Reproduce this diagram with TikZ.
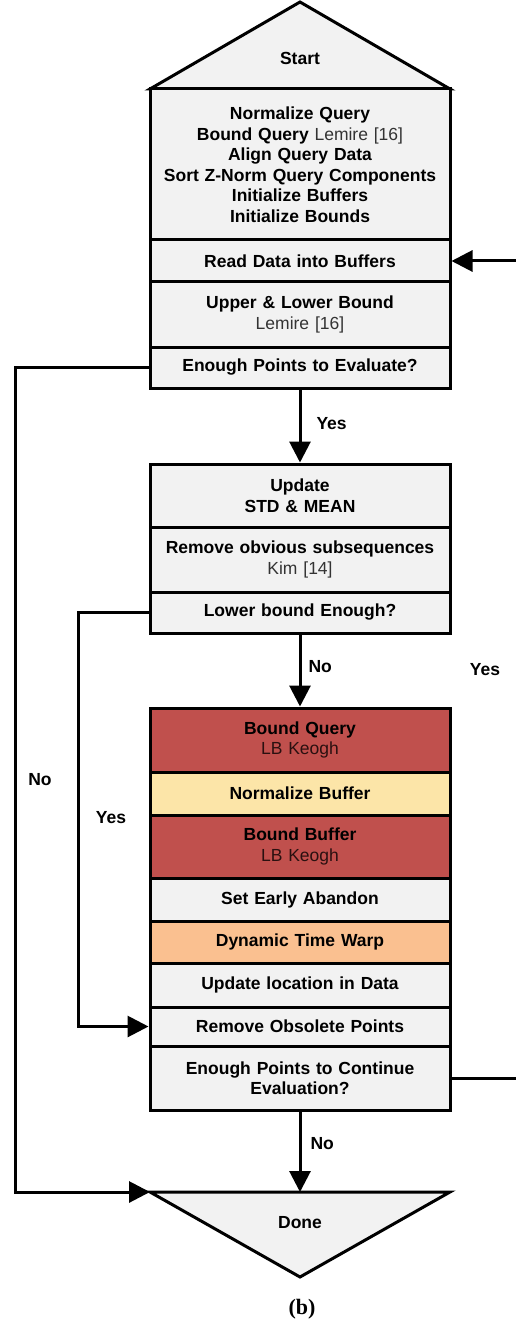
\documentclass[tikz,border=0pt]{standalone}
\usepackage{fontspec}
\setmainfont{Liberation Sans}
\newfontfamily\captionserif{Liberation Serif}
\usetikzlibrary{arrows.meta}
\usetikzlibrary{positioning}
\definecolor{boxgray}{HTML}{F2F2F2}
\definecolor{boxred}{HTML}{C0504D}
\definecolor{boxyellow}{HTML}{FCE5A8}
\definecolor{boxorange}{HTML}{FAC090}
\definecolor{notegray}{HTML}{333333}
\definecolor{notedark}{HTML}{2A1010}
\newcommand{\refnote}[1]{{\mdseries\color{notegray}#1}}
\newcommand{\darknote}[1]{{\mdseries\color{notedark}#1}}
\tikzset{blk/.style = {draw, line width = 3pt, fill = boxgray, minimum width = 300pt, text width = 290pt, align = center, inner sep = 0, font = \fontsize{17.5}{20.5}\selectfont\bfseries}}
\tikzset{lbl/.style = {inner sep = 0, font = \fontsize{17.5}{20.5}\selectfont\bfseries}}
\tikzset{endlbl/.style = {inner sep = 0, font = \fontsize{17.5}{20}\selectfont\bfseries}}
\tikzset{flow/.style = {line width = 3pt, -{Triangle[length = 21pt, width = 21pt]}}}
\tikzset{ends/.style = {line width = 3pt, fill = boxgray}}

\begin{document}
\begin{tikzpicture}[x = 1pt, y = -1pt]
    \useasboundingbox (0, 0) rectangle (516, 1321);
    \clip (0, 0) rectangle (516, 1321);

    % start and end
    \draw [ends] (150, 89) -- (300, 2) -- (450, 89) -- cycle;
    \draw [ends] (150, 1192) -- (450, 1192) -- (300, 1277) -- cycle;
    \node [endlbl] (start) at (300, 58) {Start};
    \node [endlbl] (done) at (300, 1223) {Done};
    \coordinate (done-top) at (300, 1192);
    \coordinate (done-left) at (150, 1192);

    % setup
    \node [blk, minimum height = 151] (init) at (300, 164.5) {Normalize Query\\Bound Query \refnote{Lemire [16]}\\Align Query Data\\Sort Z-Norm Query Components\\Initialize Buffers\\Initialize Bounds};
    \node [blk, minimum height = 42] (read) at (300, 261) {Read Data into Buffers};
    \node [blk, minimum height = 65] (upper) at (300, 314.5) {Upper \& Lower Bound\\\refnote{Lemire [16]}};
    \node [blk, minimum height = 41] (enough) at (300, 367.5) {Enough Points to Evaluate?};

    % cheap checks
    \node [blk, minimum height = 63] (update) at (300, 495.5) {Update\\STD \& MEAN};
    \node [blk, minimum height = 65] (kim) at (300, 559.5) {Remove obvious subsequences\\\refnote{Kim [14]}};
    \node [blk, minimum height = 41] (lowerb) at (300, 612.5) {Lower bound Enough?};

    % main loop
    \node [blk, fill = boxred, minimum height = 64] (bquery) at (300, 740) {Bound Query\\\darknote{LB Keogh}};
    \node [blk, fill = boxyellow, minimum height = 43] (nbuf) at (300, 793.5) {Normalize Buffer};
    \node [blk, fill = boxred, minimum height = 63] (bbuf) at (300, 846.5) {Bound Buffer\\\darknote{LB Keogh}};
    \node [blk, minimum height = 43] (abandon) at (300, 899.5) {Set Early Abandon};
    \node [blk, fill = boxorange, minimum height = 42] (dtw) at (300, 942) {Dynamic Time Warp};
    \node [blk, minimum height = 44] (loc) at (300, 985) {Update location in Data};
    \node [blk, minimum height = 39] (obsolete) at (300, 1026.5) {Remove Obsolete Points};
    \node [blk, minimum height = 64] (cont) at (300, 1078) {Enough Points to Continue\\Evaluation?};

    % connectors
    \draw [flow] (enough.south) -- (update.north) node [lbl, pos = 0.47, right = 15pt] {Yes};
    \draw [flow] (lowerb.south) -- (bquery.north) node [lbl, pos = 0.45, right = 7pt] {No};
    \draw [flow] (cont.south) -- (done-top) node [lbl, pos = 0.4, right = 9pt] {No};

    \coordinate (far-left) at (15, 0);
    \coordinate (near-left) at (78, 0);
    \coordinate (far-right) at (522, 0);
    \draw [flow] (enough.west) -- (enough.west -| far-left) -- (far-left |- done-left) -- (done-left);
    \draw [flow] (lowerb.west) -- (lowerb.west -| near-left) -- (near-left |- obsolete.west) -- (obsolete.west);
    \draw [flow] (cont.east) -- (cont.east -| far-right) -- (far-right |- read.east) -- (read.east);

    \node [lbl] (no-left) at (40, 780) {No};
    \node [lbl] (yes-left) at (111, 818) {Yes};
    \node [lbl] (yes-right) at (485, 670) {Yes};

    \node [font = \captionserif\bfseries\fontsize{22}{24}\selectfont] (caption) at (302, 1309) {(b)};
\end{tikzpicture}
\end{document}
